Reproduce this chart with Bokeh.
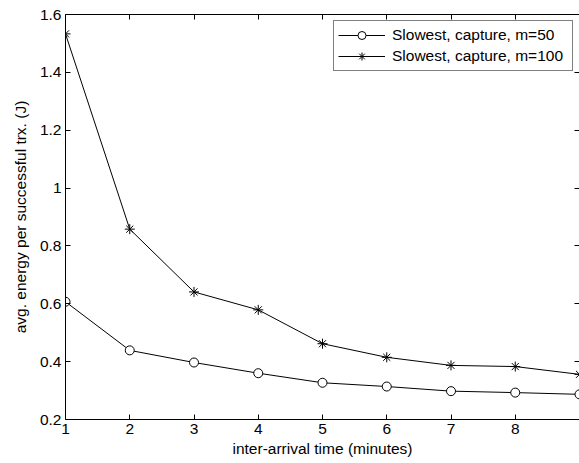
from bokeh.plotting import figure
from bokeh.models import (Range1d, FixedTicker, LinearAxis, Legend, LegendItem,
                          CustomJSTickFormatter)
from bokeh.embed import file_html
from bokeh.resources import INLINE

# data
x_vals = [1, 2, 3, 4, 5, 6, 7, 8, 9]
m50 = [0.607, 0.439, 0.397, 0.360, 0.327, 0.314, 0.298, 0.293, 0.287]
m100 = [1.533, 0.858, 0.641, 0.579, 0.462, 0.415, 0.387, 0.383, 0.356]
label_m50 = "Slowest, capture, m=50"
label_m100 = "Slowest, capture, m=100"
x_ticks_bottom = [1, 2, 3, 4, 5, 6, 7, 8]
x_ticks_all = [1, 2, 3, 4, 5, 6, 7, 8, 9]
y_ticks = [0.2, 0.4, 0.6, 0.8, 1.0, 1.2, 1.4, 1.6]
x_label = "inter-arrival time (minutes)"
y_label = "avg. energy per successful trx. (J)"

FONT = "Liberation Sans"
FS = "15.5px"

p = figure(width=579, height=463, output_backend="svg", toolbar_location=None,
           x_range=Range1d(1, 9), y_range=Range1d(0.2, 1.6),
           min_border_left=65, min_border_right=0, min_border_top=14,
           min_border_bottom=44, x_axis_label=x_label, y_axis_label=y_label)
p.grid.visible = False
p.outline_line_color = None
p.background_fill_color = "white"
p.border_fill_color = "white"

bx = p.below[0]
ly = p.left[0]
bx.ticker = FixedTicker(ticks=x_ticks_bottom)
ly.ticker = FixedTicker(ticks=y_ticks)
ly.formatter = CustomJSTickFormatter(code="return String(Math.round(tick*10)/10)")

top = LinearAxis(ticker=FixedTicker(ticks=x_ticks_all))
right = LinearAxis(ticker=FixedTicker(ticks=y_ticks))
p.add_layout(top, "above")
p.add_layout(right, "right")

for ax in [bx, ly, top, right]:
    ax.axis_line_color = "black"
    ax.axis_line_width = 1
    ax.major_tick_in = 5
    ax.major_tick_out = 0
    ax.major_tick_line_color = "black"
    ax.minor_tick_line_color = None
    ax.major_label_text_font = FONT
    ax.major_label_text_font_size = FS
    ax.major_label_text_color = "black"
    ax.axis_label_text_font = FONT
    ax.axis_label_text_font_size = FS
    ax.axis_label_text_font_style = "normal"
    ax.axis_label_text_color = "black"

for ax in [top, right]:
    ax.major_label_text_font_size = "0px"
    ax.major_label_text_color = None
    ax.major_label_standoff = 0
right.axis_line_color = None

bx.major_label_standoff = 4
bx.axis_label_standoff = 3
ly.major_label_standoff = 4
ly.axis_label_standoff = 8

l1 = p.line(x_vals, m50, line_color="black", line_width=1)
s1 = p.scatter(x_vals, m50, marker="circle", size=9, fill_color="white",
               line_color="black", line_width=1)
l2 = p.line(x_vals, m100, line_color="black", line_width=1)
s2 = p.scatter(x_vals, m100, marker="asterisk", size=10, line_color="black",
               line_width=1)

legend = Legend(items=[LegendItem(label=label_m50, renderers=[l1, s1]),
                       LegendItem(label=label_m100, renderers=[l2, s2])],
                location=(268, 348))
legend.border_line_color = "black"
legend.border_line_width = 1
legend.background_fill_color = "white"
legend.background_fill_alpha = 1
legend.padding = 4
legend.spacing = 1
legend.margin = 0
legend.glyph_width = 47
legend.glyph_height = 20
legend.label_height = 20
legend.label_standoff = 7
legend.label_width = 176
legend.label_text_font = FONT
legend.label_text_font_size = FS
legend.label_text_color = "black"
p.add_layout(legend)

open("out.html", "w").write(file_html(p, INLINE))
